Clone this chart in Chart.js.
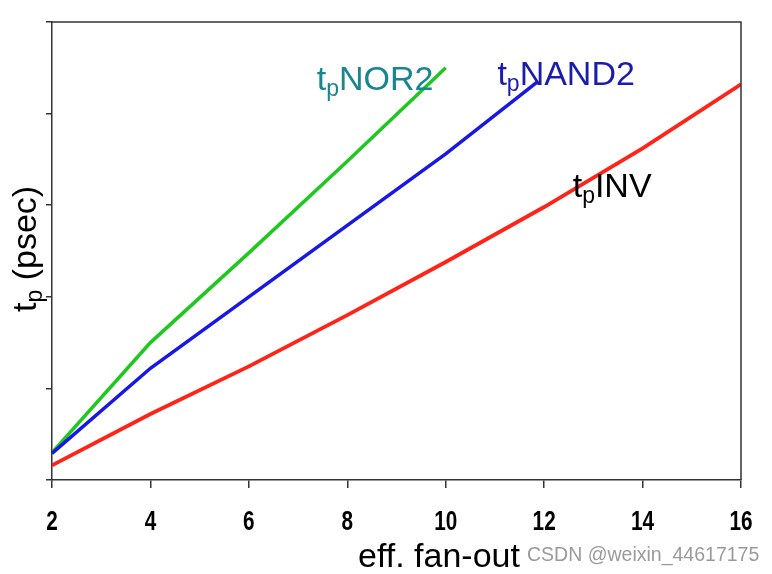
<!DOCTYPE html>
<html><head><meta charset="utf-8">
<script src="https://cdn.jsdelivr.net/npm/chart.js@4"></script>
<style>html,body{margin:0;padding:0;background:#fff}</style>
</head><body>
<canvas id="c" width="772" height="574"></canvas>
<script>
// ---- data ----
const fanoutINV   = [2, 4, 6, 8, 10, 12, 14, 16];
const tpINV       = [8, 36, 62, 90, 119, 149, 181, 216];
const fanoutNOR2  = [2, 4, 6, 8, 10];
const tpNOR2      = [15, 75, 124, 174, 225];
const fanoutNAND2 = [2, 4, 6, 8, 10, 11.85];
const tpNAND2     = [14.5, 61, 100, 139, 178, 217];
const xTicks = [2, 4, 6, 8, 10, 12, 14, 16];
const yTicks = [0, 50, 100, 150, 200, 250];

const xTitle = 'eff. fan-out';
const yTitle = ['t', 'p', ' (psec)'];
const watermark = 'CSDN @weixin_44617175';
// series labels: [base, subscript, rest, anchor x, anchor y, colour]
const seriesLabels = [
  ['t', 'p', 'NOR2', 7.38, 213, '#17868e'],
  ['t', 'p', 'NAND2', 11.05, 215.5, '#1c1cab'],
  ['t', 'p', 'INV', 12.58, 154.5, '#000000']
];

const AXIS = '#333333';
const SANS = '"Liberation Sans", Arial, sans-serif';

function pts(xs, ys) { return xs.map((v, i) => ({x: v, y: ys[i]})); }

function drawSub(ctx, px, py, base, sub, rest, color, size) {
  ctx.fillStyle = color;
  ctx.textAlign = 'left';
  ctx.textBaseline = 'alphabetic';
  ctx.font = size + 'px ' + SANS;
  ctx.fillText(base, px, py);
  let w = ctx.measureText(base).width;
  const ss = Math.round(size * 0.68);
  ctx.font = ss + 'px ' + SANS;
  ctx.fillText(sub, px + w, py + size * 0.17);
  w += ctx.measureText(sub).width;
  ctx.font = size + 'px ' + SANS;
  ctx.fillText(rest, px + w, py);
}

const overlay = {
  id: 'overlay',
  afterDraw(chart) {
    const {ctx, chartArea: a, scales: {x, y}} = chart;
    ctx.save();
    ctx.strokeStyle = AXIS;
    ctx.lineWidth = 1.5;
    ctx.beginPath();
    ctx.moveTo(a.left, a.top);
    ctx.lineTo(a.right, a.top);
    ctx.lineTo(a.right, a.bottom);
    ctx.stroke();
    // narrow bold x tick labels
    ctx.fillStyle = '#000';
    ctx.font = 'bold 28px ' + SANS;
    ctx.textAlign = 'center';
    ctx.textBaseline = 'alphabetic';
    x.ticks.forEach(t => {
      const px = x.getPixelForValue(t.value);
      ctx.save();
      ctx.translate(px, 530);
      ctx.scale(0.74, 1);
      ctx.fillText(String(t.value), 0, 0);
      ctx.restore();
    });
    seriesLabels.forEach(l => {
      drawSub(ctx, x.getPixelForValue(l[3]), y.getPixelForValue(l[4]), l[0], l[1], l[2], l[5], 34);
    });
    // y title
    ctx.save();
    ctx.translate(36, 312);
    ctx.rotate(-Math.PI / 2);
    drawSub(ctx, 0, 0, yTitle[0], yTitle[1], yTitle[2], '#000', 34);
    ctx.restore();
    // x title
    ctx.fillStyle = '#000';
    ctx.font = '34px ' + SANS;
    ctx.textAlign = 'left';
    ctx.fillText(xTitle, 358, 567);
    // watermark
    ctx.fillStyle = '#9a9a9a';
    ctx.font = '19.5px ' + SANS;
    ctx.fillText(watermark, 527, 561);
    ctx.restore();
  }
};

new Chart(document.getElementById('c'), {
  type: 'line',
  data: {
    datasets: [
      {label: 'INV', data: pts(fanoutINV, tpINV), borderColor: '#ff2418', borderWidth: 3.8, pointRadius: 0, tension: 0},
      {label: 'NAND2', data: pts(fanoutNAND2, tpNAND2), borderColor: '#1818e6', borderWidth: 3.5, pointRadius: 0, tension: 0},
      {label: 'NOR2', data: pts(fanoutNOR2, tpNOR2), borderColor: '#1ec81e', borderWidth: 3.5, pointRadius: 0, tension: 0}
    ]
  },
  options: {
    responsive: false,
    animation: false,
    devicePixelRatio: 1,
    layout: {padding: {left: 0, right: 31, top: 22, bottom: 0}},
    plugins: {legend: {display: false}, tooltip: {enabled: false}},
    scales: {
      x: {
        type: 'linear', min: 2, max: 16,
        afterBuildTicks: s => { s.ticks = xTicks.map(v => ({value: v})); },
        afterFit: s => { s.height = 94; },
        ticks: {color: 'rgba(0,0,0,0)', padding: 14, font: {family: SANS, size: 28, weight: 'bold'}, maxRotation: 0},
        grid: {display: true, drawOnChartArea: false, drawTicks: true, tickLength: 8, color: AXIS, lineWidth: 1.5},
        border: {display: true, color: AXIS, width: 1.5}
      },
      y: {
        type: 'linear', min: 0, max: 250,
        afterBuildTicks: s => { s.ticks = yTicks.map(v => ({value: v})); },
        afterFit: s => { s.width = 52; },
        ticks: {callback: () => '', padding: 0},
        grid: {display: true, drawOnChartArea: false, drawTicks: true, tickLength: 6, color: AXIS, lineWidth: 1.5},
        border: {display: true, color: AXIS, width: 1.5}
      }
    }
  },
  plugins: [overlay]
});
</script>
</body></html>
